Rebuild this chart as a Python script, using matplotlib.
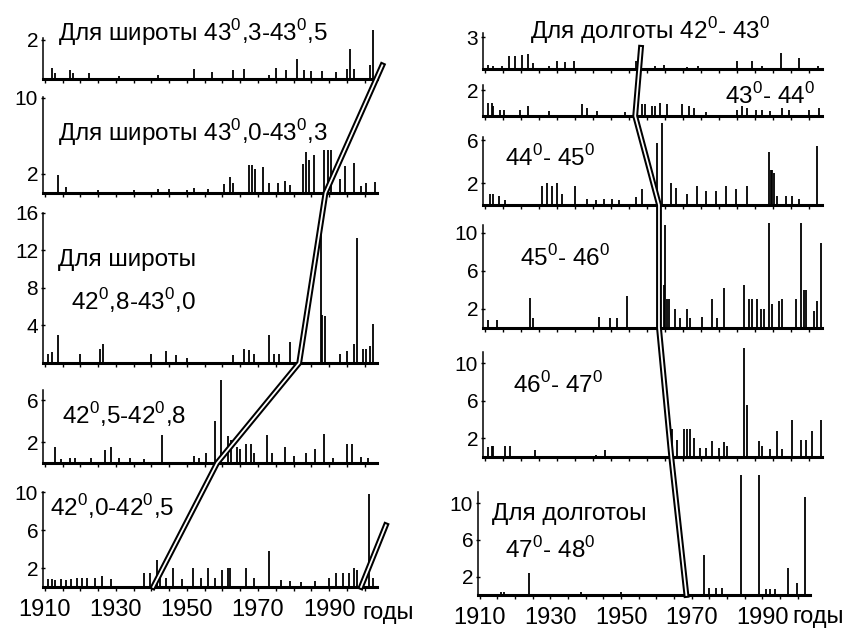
import matplotlib
matplotlib.use('Agg')
import matplotlib.pyplot as plt
from matplotlib.lines import Line2D

plt.rcParams['font.family'] = ['Liberation Sans', 'DejaVu Sans']
plt.rcParams['mathtext.fontset'] = 'custom'
plt.rcParams['mathtext.rm'] = 'Liberation Sans'

W, H = 852, 630

# ---- data: (year, number of events) for every strip ----
# latitude strips (left column, top to bottom)
lat1_years = [1912, 1913, 1917, 1918, 1922.5, 1931, 1942, 1952, 1957, 1963, 1966, 1973, 1975, 1978,
              1981, 1983, 1985, 1988, 1992, 1995, 1996, 1997, 2001.5, 2002.5]
lat1_vals = [0.55, 0.3, 0.45, 0.3, 0.3, 0.15, 0.2, 0.5, 0.35, 0.45, 0.5, 0.2, 0.55, 0.45,
             1.0, 0.45, 0.4, 0.4, 0.35, 0.5, 1.55, 0.5, 0.7, 2.5]

lat2_years = [1913.7, 1916, 1925, 1935, 1942, 1945, 1950, 1952, 1956, 1960.5, 1962, 1963, 1967.4, 1968.3,
              1969.2, 1971.5, 1973, 1975.5, 1977.5, 1979, 1982.7, 1983.5, 1984.5, 1985.8, 1988.7,
              1989.6, 1990.5, 1993, 1994.5, 1997, 1999, 2000.5, 2003]
lat2_vals = [1.9, 0.6, 0.3, 0.3, 0.4, 0.4, 0.3, 0.5, 0.4, 0.9, 1.7, 1.0, 2.9, 2.9,
             2.5, 2.7, 1.0, 1.0, 1.3, 0.8, 3.0, 4.3, 3.5, 4.0, 4.5,
             4.5, 4.5, 1.5, 2.8, 3.2, 0.7, 1.0, 1.2]

lat3_years = [1911, 1912, 1913.7, 1920, 1925.5, 1926.5, 1940, 1944, 1947, 1950, 1963, 1966, 1967.5,
              1969, 1973, 1974.5, 1976, 1979, 1987.6, 1988, 1989, 1993, 1995, 1997, 1998, 1999.5,
              2000.5, 2001.5, 2002.5]
lat3_vals = [1.0, 1.2, 3.0, 1.0, 1.5, 2.0, 1.0, 1.3, 0.9, 0.5, 0.9, 1.5, 1.4,
             1.0, 3.0, 1.0, 1.0, 2.2, 16.3, 5.1, 5.0, 1.0, 1.3, 2.0, 13.3, 1.5,
             1.5, 1.8, 4.2]

lat4_years = [1913, 1914.5, 1917, 1918.5, 1923, 1927, 1928.5, 1931, 1934, 1938, 1943, 1952, 1953.5,
              1955.5, 1958, 1959.5, 1961.5, 1962.5, 1964, 1965, 1966.5, 1968, 1969, 1972.5, 1974,
              1977.5, 1980, 1983.5, 1986, 1988.7, 1991, 1995, 1996.5, 1999, 2001]
lat4_vals = [1.5, 0.4, 0.5, 0.5, 0.5, 1.2, 1.5, 0.5, 0.5, 0.4, 2.7, 0.7, 0.5,
             1.0, 4.0, 8.0, 2.6, 2.2, 1.5, 1.3, 1.8, 1.8, 1.0, 2.7, 1.0,
             1.5, 0.7, 1.0, 1.3, 2.8, 0.5, 1.8, 1.8, 0.6, 0.5]

lat5_years = [1911, 1912, 1913, 1914.5, 1916, 1917.5, 1919, 1920.5, 1922, 1924, 1926, 1928.5, 1938,
              1939.5, 1941.5, 1942.5, 1944, 1946, 1948.5, 1951.7, 1954, 1956, 1958, 1960, 1961.5,
              1962, 1966.5, 1969, 1973, 1976.5, 1979, 1982, 1986, 1990, 1992, 1993.8, 1995.5, 1997,
              1998, 2001.2, 2002.5]
lat5_vals = [0.8, 0.8, 0.7, 0.8, 0.7, 0.8, 1.0, 1.0, 1.0, 1.0, 1.2, 0.8, 1.5,
             1.5, 2.8, 1.0, 1.0, 2.0, 0.8, 2.0, 1.0, 2.0, 1.0, 1.8, 2.0,
             2.0, 2.0, 1.0, 3.8, 0.7, 0.6, 0.5, 0.6, 1.0, 1.5, 1.5, 1.5, 2.0,
             1.8, 9.8, 1.0]

# longitude strips (right column, top to bottom)
lon1_years = [1911, 1912.4, 1914.7, 1916.6, 1918.4, 1920.3, 1922.1, 1923.5, 1927.7, 1930, 1932.3,
              1934.6, 1951.8, 1953.1, 1957.3, 1959.6, 1966, 1969, 1980, 1984.2, 1987, 1992, 1997, 2002.5]
lon1_vals = [0.4, 0.3, 0.3, 1.2, 1.2, 1.3, 1.4, 0.6, 0.3, 0.8, 0.7,
             0.8, 0.8, 2.0, 0.3, 0.4, 0.2, 0.3, 0.8, 0.8, 0.3, 1.5, 1.0, 0.3]

lon2_years = [1911, 1911.9, 1912.4, 1914.3, 1915.2, 1919.8, 1922.1, 1927.7, 1937, 1938.3, 1941.1,
              1949, 1951.8, 1953.6, 1954.5, 1956.4, 1957.3, 1958.7, 1960.6, 1964.7, 1966.6, 1968,
              1971.2, 1980, 1981.4, 1982.8, 1985.1, 1986.9, 1989.2, 1992.5, 1994.4, 1999.9, 2002.8]
lon2_vals = [1.0, 1.0, 0.8, 0.5, 0.5, 0.5, 0.8, 0.4, 0.9, 0.6, 0.4,
             0.3, 0.9, 0.9, 0.9, 0.8, 0.8, 1.0, 0.9, 0.9, 0.8, 0.6,
             0.3, 0.5, 0.8, 0.6, 0.5, 0.5, 0.4, 0.6, 0.5, 0.5, 0.6]

lon3_years = [1911.5, 1912.4, 1913.8, 1915.6, 1925.8, 1927.2, 1928.6, 1930, 1931.4, 1935.1, 1938.3,
              1940.7, 1943, 1945.4, 1947.3, 1951.8, 1953.6, 1957.8, 1959.2, 1961.5, 1962.9, 1966.1,
              1968.9, 1971.2, 1974, 1976.8, 1979.6, 1982.8, 1988.8, 1989.3, 1989.7, 1990.2, 1991.1,
              1993.4, 1995.3, 1997.1, 2002.2]
lon3_vals = [1.0, 1.0, 0.8, 0.5, 1.8, 2.0, 1.8, 2.0, 1.0, 1.8, 0.6,
             0.5, 0.6, 0.6, 0.5, 0.7, 1.5, 5.7, 7.6, 2.0, 1.6, 1.0,
             1.8, 1.3, 1.3, 1.8, 1.5, 1.8, 4.9, 3.2, 3.2, 3.0, 0.8,
             0.8, 0.8, 0.6, 5.5]

lon4_years = [1911, 1913.3, 1922.6, 1923.5, 1941.6, 1944.8, 1946.7, 1949.4, 1958.2, 1958.7, 1959.6,
              1960, 1960.5, 1961, 1962.8, 1964.2, 1966.1, 1967, 1970.2, 1973, 1974.4, 1976.3, 1981.9,
              1983.3, 1984.2, 1985.6, 1986.5, 1987.4, 1988.8, 1989.7, 1991.6, 1992.5, 1996.2, 1997.6,
              1998.5, 1999, 2001.3, 2002.2, 2003.1]
lon4_vals = [0.8, 0.8, 3.1, 1.0, 1.2, 1.0, 1.0, 3.4, 3.5, 6.5, 4.5,
             10.8, 3.0, 3.0, 2.0, 1.0, 2.0, 1.0, 1.2, 3.0, 1.0, 4.2, 4.5,
             3.0, 3.0, 3.0, 2.0, 2.0, 11.0, 2.5, 2.8, 3.0, 3.0, 11.0,
             4.0, 4.0, 1.8, 2.8, 8.9]

lon5_years = [1911, 1911.9, 1912.4, 1915.6, 1917, 1923.9, 1940.7, 1943.4, 1961.9, 1963.3, 1965.1,
              1966.1, 1967, 1968, 1969.8, 1971.2, 1973, 1974.9, 1976.3, 1977.2, 1981.9, 1982.8,
              1986, 1986.9, 1989.2, 1991.1, 1992.5, 1995.3, 1997.6, 1999, 2000.8, 2003.1]
lon5_vals = [1.1, 1.2, 1.2, 1.2, 1.2, 0.8, 0.2, 0.8, 3.0, 1.8, 3.0,
             3.0, 3.0, 2.0, 1.0, 1.0, 1.7, 1.0, 1.6, 1.2, 11.6, 5.5,
             1.7, 1.2, 0.9, 2.8, 0.9, 4.0, 1.8, 1.8, 2.8, 4.0]

lon6_years = [1916, 1917, 1924, 1938.6, 1950, 1973.6, 1975, 1977, 1978.5, 1983.9, 1989, 1991,
              1992.3, 1993.5, 1997.4, 1999.8, 2002]
lon6_vals = [0.3, 0.3, 2.4, 0.3, 0.3, 4.3, 0.8, 0.8, 0.8, 13.0, 13.1, 0.6,
             0.6, 0.6, 2.9, 1.3, 10.7]

lat_ticks = [[2], [2, 10], [4, 8, 12, 16], [2, 6], [2, 6, 10]]
lon_ticks = [[3], [2], [2, 6], [2, 6, 10], [2, 6, 10], [2, 6, 10]]

deg = r'$^{\rm 0}$'
lat_labels = ['Для широты 43' + deg + ',3-43' + deg + ',5',
              'Для широты 43' + deg + ',0-43' + deg + ',3',
              'Для широты\n  42' + deg + ',8-43' + deg + ',0',
              '42' + deg + ',5-42' + deg + ',8',
              '42' + deg + ',0-42' + deg + ',5']
lon_labels = ['Для долготы 42' + deg + '- 43' + deg,
              '43' + deg + '- 44' + deg,
              '44' + deg + '- 45' + deg,
              '45' + deg + '- 46' + deg,
              '46' + deg + '- 47' + deg,
              'Для долготоы\n  47' + deg + '- 48' + deg]

x_tick_years = [1910, 1930, 1950, 1970, 1990]

# migration paths: (strip index, year, value)
lat_path = [(4, 1940.5, 0), (3, 1958.5, 0), (2, 1981.6, 0), (1, 1989.0, 0), (0, 2005.0, 0.7)]
lat_path2 = [(4, 1999.0, 0), (4, 2006.0, 6.5)]
lon_path = [(0, 1953.3, 2.0), (1, 1951.7, 0), (2, 1958.3, 0), (3, 1958.3, 0), (4, 1961.7, 0), (5, 1968.5, 0)]

# ---- layout in pixels: (x0, x1, top, baseline, ymax) ----
lat_boxes = [(43, 377, 38, 79, 2.1), (43, 377, 97, 193, 10.1), (43, 377, 213, 363, 16.0),
             (43, 377, 390, 463, 7.0), (43, 377, 492, 587, 10.0)]
lon_boxes = [(483, 822, 33, 69, 3.4), (483, 822, 85, 116, 2.4), (483, 822, 137, 205, 6.3),
             (483, 822, 225, 328, 10.8), (483, 822, 352, 457, 11.2), (478, 810, 492, 595, 11.2)]
lat_text = [(58, 33), (58, 133), (58, 282), (62, 415), (50, 507)]
lon_text = [(530, 31), (725, 96), (505, 158), (520, 258), (513, 385), (492, 533)]

fig = plt.figure(figsize=(W / 100, H / 100), dpi=100)


def add_strip(box, years, vals, ticks):
    x0, x1, top, base, ymax = box
    ax = fig.add_axes([x0 / W, 1 - base / H, (x1 - x0) / W, (base - top) / H])
    ax.set_xlim(1909.5, 2003.5)
    ax.set_ylim(0, ymax)
    ax.vlines(years, 0, vals, color='black', lw=1.3, clip_on=False)
    for s in ['top', 'right']:
        ax.spines[s].set_visible(False)
    ax.spines['bottom'].set_linewidth(2.2)
    ax.spines['left'].set_linewidth(1.1)
    ax.set_yticks(ticks)
    ax.tick_params(axis='y', length=3, width=1, pad=2, labelsize=15, direction='inout')
    ax.set_xticks(x_tick_years)
    ax.set_xticks(range(1915, 2004, 5), minor=True)
    ax.tick_params(axis='x', which='both', length=3, width=1, direction='out',
                   labelbottom=False, pad=6, labelsize=17)
    ax.patch.set_alpha(0)
    return ax


lat_axes = []
for box, yrs, vals, tk in zip(lat_boxes, [lat1_years, lat2_years, lat3_years, lat4_years, lat5_years],
                              [lat1_vals, lat2_vals, lat3_vals, lat4_vals, lat5_vals], lat_ticks):
    lat_axes.append(add_strip(box, yrs, vals, tk))

lon_axes = []
for box, yrs, vals, tk in zip(lon_boxes, [lon1_years, lon2_years, lon3_years, lon4_years, lon5_years, lon6_years],
                              [lon1_vals, lon2_vals, lon3_vals, lon4_vals, lon5_vals, lon6_vals], lon_ticks):
    lon_axes.append(add_strip(box, yrs, vals, tk))

# year labels under the bottom strips
for ax, gx, gy in [(lat_axes[-1], 388, 613), (lon_axes[-1], 818, 617)]:
    ax.tick_params(axis='x', which='major', labelbottom=True)
    fig.text(gx / W, 1 - gy / H, 'годы', fontsize=17, ha='center', va='center')

for (tx, ty), lab in zip(lat_text, lat_labels):
    fig.text(tx / W, 1 - ty / H, lab, fontsize=17.5, ha='left', va='center', linespacing=1.6)
for (tx, ty), lab in zip(lon_text, lon_labels):
    fig.text(tx / W, 1 - ty / H, lab, fontsize=17.5, ha='left', va='center', linespacing=1.6)


def draw_path(axes, path):
    inv = fig.transFigure.inverted()
    pts = [inv.transform(axes[i].transData.transform((yr, v))) for i, yr, v in path]
    xs = [p[0] for p in pts]
    ys = [p[1] for p in pts]
    fig.add_artist(Line2D(xs, ys, transform=fig.transFigure, color='black', lw=4.2,
                          solid_joinstyle='miter', zorder=10))
    fig.add_artist(Line2D(xs, ys, transform=fig.transFigure, color='white', lw=1.3,
                          solid_joinstyle='miter', zorder=11))


draw_path(lat_axes, lat_path)
draw_path(lat_axes, lat_path2)
draw_path(lon_axes, lon_path)

fig.savefig('out.png', dpi=100)
